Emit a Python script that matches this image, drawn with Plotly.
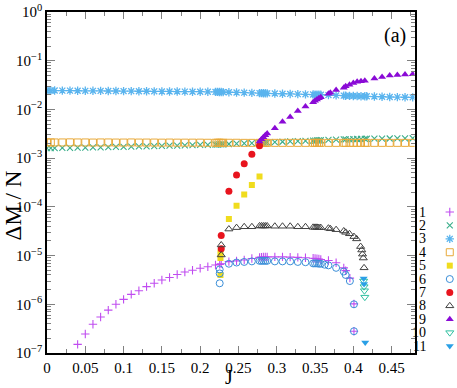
import plotly.graph_objects as go

# ---- data ----
# common J grid for the three flat series (2, 3, 4)
j_flat = [0.0, 0.005, 0.01, 0.02, 0.03, 0.04, 0.05, 0.06, 0.07, 0.08, 0.09, 0.10,
          0.11, 0.12, 0.13, 0.14, 0.15, 0.16, 0.17, 0.18, 0.19, 0.20, 0.21,
          0.22, 0.2225, 0.225, 0.2275, 0.23,
          0.2375, 0.2475, 0.2575, 0.2675,
          0.2775, 0.28, 0.2825, 0.285, 0.2875,
          0.2975, 0.3075, 0.3175, 0.3275, 0.3375,
          0.3475, 0.35, 0.3525, 0.355, 0.3575,
          0.3675, 0.3775,
          0.3875, 0.39, 0.395, 0.40, 0.405, 0.41, 0.415, 0.4175,
          0.4275, 0.4375, 0.4475, 0.4575, 0.4675, 0.4775]
dm2 = [0.00160, 0.00160, 0.00161,
       0.00162, 0.00163, 0.00164, 0.00165, 0.00166, 0.00167, 0.00168, 0.00170, 0.00171, 0.00172,
       0.00174, 0.00175, 0.00177, 0.00178, 0.00180, 0.00181, 0.00183, 0.00185, 0.00187, 0.00188,
       0.00190, 0.00190, 0.00191, 0.00191, 0.00192,
       0.00195, 0.00198, 0.00200, 0.00203,
       0.00207, 0.00208, 0.00209, 0.00210, 0.00211,
       0.00214, 0.00217, 0.00220, 0.00223, 0.00226,
       0.00229, 0.00230, 0.00231, 0.00232, 0.00233,
       0.00236, 0.00239,
       0.00242, 0.00243, 0.00244, 0.00246, 0.00247, 0.00248, 0.00249, 0.00250,
       0.00251, 0.00252, 0.00253, 0.00254, 0.00255, 0.00256]
dm3 = [0.0245, 0.0245, 0.0244,
       0.0243, 0.0243, 0.0242, 0.0241, 0.0241, 0.0240, 0.0239, 0.0239, 0.0238, 0.0237,
       0.0236, 0.0236, 0.0235, 0.0234, 0.0234, 0.0233, 0.0232, 0.0231, 0.0231, 0.0230,
       0.0229, 0.0229, 0.0228, 0.0228, 0.0227,
       0.0225, 0.0223, 0.0221, 0.0219,
       0.0216, 0.0216, 0.0215, 0.0215, 0.0214,
       0.0212, 0.0210, 0.0208, 0.0206, 0.0204,
       0.0202, 0.0201, 0.0201, 0.0200, 0.0200,
       0.0197, 0.0194,
       0.0192, 0.0191, 0.0190, 0.0189, 0.0188, 0.0187, 0.0186, 0.0186,
       0.0184, 0.0182, 0.0180, 0.0179, 0.0178, 0.0177]
dm4 = [0.00211, 0.00210, 0.00210,
       0.00210, 0.00211, 0.00210, 0.00210, 0.00209, 0.00210, 0.00210, 0.00209, 0.00209, 0.00210,
       0.00209, 0.00209, 0.00209, 0.00208, 0.00209, 0.00208, 0.00208, 0.00208, 0.00208, 0.00207,
       0.00207, 0.00207, 0.00207, 0.00207, 0.00207,
       0.00207, 0.00207, 0.00206, 0.00206,
       0.00206, 0.00206, 0.00206, 0.00206, 0.00206,
       0.00206, 0.00206, 0.00206, 0.00206, 0.00206,
       0.00206, 0.00206, 0.00206, 0.00206, 0.00206,
       0.00206, 0.00206,
       0.00206, 0.00206, 0.00206, 0.00206, 0.00206, 0.00206, 0.00206, 0.00206,
       0.00206, 0.00206, 0.00206, 0.00206, 0.00206, 0.00206]

j1 = [0.04, 0.05, 0.06, 0.07, 0.08, 0.09, 0.10, 0.11, 0.12, 0.13, 0.14, 0.15, 0.16,
      0.17, 0.18, 0.19, 0.20, 0.21, 0.22, 0.2255, 0.2275,
      0.2375, 0.2475, 0.2575, 0.2675, 0.2775, 0.28, 0.2825, 0.285, 0.2875,
      0.2975, 0.3075, 0.3175, 0.3275, 0.3375, 0.3475, 0.35, 0.3525, 0.355, 0.3575,
      0.3675, 0.3775, 0.3875, 0.39, 0.3955, 0.4008, 0.4008]
dm1 = [1.5e-7, 2.45e-7, 3.9e-7, 5.5e-7, 7.6e-7, 1.0e-6, 1.26e-6, 1.6e-6, 1.9e-6, 2.3e-6,
       2.7e-6, 3.15e-6, 3.55e-6, 4.1e-6, 4.6e-6, 5.0e-6, 5.5e-6, 5.9e-6, 6.4e-6, 6.6e-6, 6.8e-6,
       7.5e-6, 7.8e-6, 8.1e-6, 8.7e-6, 9.2e-6, 9.3e-6, 9.4e-6, 9.4e-6, 9.4e-6,
       9.4e-6, 9.4e-6, 9.3e-6, 9.2e-6, 9.0e-6, 8.8e-6, 8.7e-6, 8.6e-6, 8.5e-6, 8.3e-6,
       7.9e-6, 7.1e-6, 5.6e-6, 4.9e-6, 3.45e-6, 1.02e-6, 2.8e-7]

j5 = [0.2265, 0.2265, 0.2265, 0.2375, 0.2475, 0.2575, 0.2675, 0.2775]
dm5 = [1.15e-5, 8.9e-6, 4.0e-6, 5.6e-5, 1.05e-4, 1.8e-4, 2.8e-4, 4.2e-4]

j6 = [0.2255, 0.2255, 0.2255, 0.2375, 0.2475, 0.2575, 0.2675, 0.2775, 0.28, 0.2825,
      0.285, 0.2875, 0.2975, 0.3075, 0.3175, 0.3275, 0.3375, 0.3475, 0.35, 0.3525,
      0.355, 0.3575, 0.3625, 0.3675, 0.3775, 0.3875, 0.39, 0.3955, 0.4008, 0.4008]
dm6 = [5.2e-6, 4.3e-6, 2.7e-6, 6.8e-6, 7.2e-6, 7.4e-6, 7.6e-6, 7.8e-6, 7.8e-6, 7.8e-6,
       7.8e-6, 7.8e-6, 7.6e-6, 7.6e-6, 7.6e-6, 7.4e-6, 7.3e-6, 6.9e-6, 6.9e-6, 6.9e-6,
       6.8e-6, 6.8e-6, 6.5e-6, 6.3e-6, 5.6e-6, 4.7e-6, 4.0e-6, 3.0e-6, 1.0e-6, 2.8e-7]

j7 = [0.2275, 0.2275, 0.2375, 0.2475, 0.2575, 0.2675, 0.2775]
dm7 = [2.57e-5, 1.38e-5, 2.1e-4, 4.5e-4, 7.7e-4, 1.2e-3, 1.8e-3]

j8 = [0.2275, 0.2275, 0.2375, 0.2475, 0.2575, 0.2675, 0.2775, 0.28, 0.2825, 0.285,
      0.2875, 0.2975, 0.3075, 0.3175, 0.3275, 0.3375, 0.3475, 0.35, 0.3525, 0.355,
      0.3575, 0.3675, 0.37, 0.3775, 0.3875, 0.39, 0.395, 0.4008, 0.4043, 0.4095,
      0.411, 0.412, 0.413, 0.414]
dm8 = [1.65e-5, 1.03e-5, 3.5e-5, 3.75e-5, 3.9e-5, 3.9e-5, 4.05e-5, 4.05e-5, 4.05e-5, 4.05e-5,
       4.05e-5, 4.0e-5, 4.0e-5, 4.0e-5, 3.9e-5, 3.9e-5, 3.8e-5, 3.8e-5, 3.8e-5, 3.75e-5,
       3.75e-5, 3.65e-5, 3.55e-5, 3.4e-5, 3.2e-5, 3.0e-5, 2.8e-5, 2.45e-5, 2.2e-5, 1.53e-5,
       1.3e-5, 1.07e-5, 8.9e-6, 5.6e-6]

j9 = [0.2775, 0.28, 0.2825, 0.285, 0.2875, 0.2975, 0.3075, 0.3175, 0.3275, 0.3375,
      0.3475, 0.35, 0.3525, 0.355, 0.3575, 0.3675, 0.37, 0.3775, 0.3875, 0.39,
      0.395, 0.40, 0.405, 0.41, 0.415, 0.4275, 0.4375, 0.4475, 0.4575, 0.4675, 0.4775]
dm9 = [2.2e-3, 2.45e-3, 2.7e-3, 2.95e-3, 3.2e-3, 4.1e-3, 5.6e-3, 7.0e-3, 9.3e-3, 1.15e-2,
       1.41e-2, 1.5e-2, 1.6e-2, 1.7e-2, 1.77e-2, 2.1e-2, 2.2e-2, 2.5e-2, 2.8e-2, 3.0e-2,
       3.2e-2, 3.5e-2, 3.7e-2, 3.8e-2, 3.9e-2, 4.3e-2, 4.65e-2, 5.0e-2, 5.1e-2, 5.2e-2, 5.3e-2]

j10 = [0.4135, 0.414, 0.4145, 0.415]
dm10 = [3.0e-6, 2.3e-6, 1.9e-6, 1.4e-6]

j11 = [0.4135, 0.414, 0.4155]
dm11 = [3.4e-6, 2.6e-6, 1.65e-7]

legend_labels = ["1", "2", "3", "4", "5", "6", "7", "8", "9", "10", "11"]
y_exponents = [-7, -6, -5, -4, -3, -2, -1, 0]

# ---- styles (open symbols take their stroke colour from marker.color) ----
def mk(symbol, color, size=7, width=1.0):
    return dict(symbol=symbol, size=size, color=color, line=dict(color=color, width=width))

series = [
    (j1, dm1, mk("cross-thin-open", "#c04cf0", 6, 1.1)),
    (j_flat, dm2, mk("x-thin-open", "#3aae8a", 6, 1.1)),
    (j_flat, dm3, mk("asterisk-open", "#5ab4ee", 7, 1.3)),
    (j_flat, dm4, mk("square-open", "#e8a93a", 7, 1.0)),
    (j5, dm5, mk("square", "#f0dc1e", 6, 0)),
    (j6, dm6, mk("circle-open", "#3a8ed8", 7, 1.0)),
    (j7, dm7, mk("circle", "#e8141e", 7, 0)),
    (j8, dm8, mk("triangle-up-open", "#404040", 7, 1.0)),
    (j9, dm9, mk("triangle-up", "#8a0ad6", 7, 0)),
    (j10, dm10, mk("triangle-down-open", "#2ec0a0", 7, 1.0)),
    (j11, dm11, mk("triangle-down", "#2aa0e6", 7, 0)),
]

FONT = "Liberation Serif, Times New Roman, Times, serif"

fig = go.Figure()
for i, (x, y, marker) in enumerate(series):
    fig.add_trace(go.Scatter(x=x, y=y, mode="markers", marker=marker,
                             showlegend=False, hoverinfo="skip"))
    # legend entry drawn in its own small axis to the right of the plot
    fig.add_trace(go.Scatter(x=[0.78], y=[i + 1], mode="markers", marker=marker,
                             xaxis="x2", yaxis="y2", cliponaxis=False,
                             showlegend=False, hoverinfo="skip"))

annotations = []
for i, lab in enumerate(legend_labels):
    annotations.append(dict(text=lab, x=0.12, y=i + 1, xref="x2", yref="y2",
                            xanchor="right", yanchor="middle", showarrow=False,
                            font=dict(family=FONT, size=14, color="black")))
annotations += [
    dict(text="J", x=0.444, y=-0.07, xref="paper", yref="paper", showarrow=False,
         xanchor="center", yanchor="middle", font=dict(family=FONT, size=20, color="black")),
    dict(text="ΔM / N", x=-0.082, y=0.434, xref="paper", yref="paper", showarrow=False,
         textangle=-90, xanchor="center", yanchor="middle",
         font=dict(family=FONT, size=23, color="black")),
    dict(text="(a)", x=0.849, y=0.93, xref="paper", yref="paper", showarrow=False,
         xanchor="center", yanchor="middle", font=dict(family=FONT, size=20, color="black")),
]

tick_col = "#808080"
fig.update_layout(
    width=457, height=388,
    margin=dict(l=47, r=0, t=12, b=35),
    paper_bgcolor="white", plot_bgcolor="white",
    font=dict(family=FONT, size=15, color="black"),
    annotations=annotations,
    xaxis=dict(domain=[0, 0.8966], range=[0, 0.48], tick0=0, dtick=0.05,
               ticks="inside", ticklen=7, tickcolor=tick_col, tickwidth=1,
               minor=dict(dtick=0.025, ticks="inside", ticklen=4, tickcolor=tick_col),
               showline=True, linecolor="black", linewidth=1.5, mirror="allticks",
               showgrid=False, zeroline=False, anchor="y",
               tickfont=dict(family=FONT, size=15, color="black")),
    yaxis=dict(type="log", range=[-7, 0],
               tickmode="array", tickvals=[10.0 ** e for e in y_exponents],
               ticktext=["10<sup>%s</sup>" % str(e).replace("-", "−") for e in y_exponents],
               ticks="inside", ticklen=8, tickcolor=tick_col, tickwidth=1,
               minor=dict(dtick="D1", ticks="inside", ticklen=4, tickcolor=tick_col),
               showline=True, linecolor="black", linewidth=1.5, mirror="allticks",
               showgrid=False, zeroline=False, anchor="x",
               tickfont=dict(family=FONT, size=15, color="black")),
    xaxis2=dict(domain=[0.92, 1.0], range=[0, 1], visible=False, anchor="y2"),
    yaxis2=dict(domain=[0, 1], range=[11.52, -13.93], visible=False, anchor="x2"),
)

# the page's default 8px body margin would push the figure out of the window
fig.write_html("out.html", config={"displayModeBar": False},
               post_script="document.body.style.margin='0';document.body.style.overflow='hidden';")
